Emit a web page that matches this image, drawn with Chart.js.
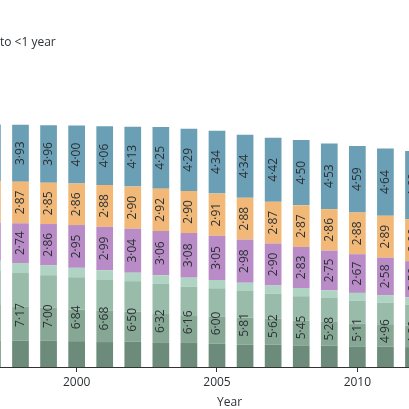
<!DOCTYPE html>
<html>
<head>
<meta charset="utf-8">
<script src="https://cdn.jsdelivr.net/npm/chart.js@4/dist/chart.umd.min.js"></script>
<style>
  html, body { margin: 0; padding: 0; background: #fff; }
  #wrap { width: 409px; height: 409px; position: relative; }
</style>
</head>
<body>
<div id="wrap"><canvas id="chart"></canvas></div>
<script>
// years shown (1997 and 2012 are cut by the frame)
const years = [1997, 1998, 1999, 2000, 2001, 2002, 2003, 2004, 2005, 2006, 2007, 2008, 2009, 2010, 2011, 2012];
const tickYears = [2000, 2005, 2010];
const legendTail = "to <1 year";
const axisTitle = "Year";

// top of the stack downwards
const blueValues = [3.90, 3.93, 3.96, 4.00, 4.06, 4.13, 4.25, 4.29, 4.34, 4.34, 4.42, 4.50, 4.53, 4.59, 4.64, 4.69];
const orangeValues = [2.88, 2.87, 2.85, 2.86, 2.88, 2.90, 2.92, 2.90, 2.91, 2.88, 2.87, 2.87, 2.86, 2.88, 2.89, 2.90];
const purpleValues = [2.62, 2.74, 2.86, 2.95, 2.99, 3.04, 3.06, 3.08, 3.05, 2.98, 2.90, 2.83, 2.75, 2.67, 2.58, 2.50];
// green block: printed total plus its four unlabelled bands
const greenTotals = [7.33, 7.17, 7.00, 6.84, 6.68, 6.50, 6.32, 6.16, 6.00, 5.81, 5.62, 5.45, 5.28, 5.11, 4.96, 4.80];
const greenLightest = [0.70, 0.69, 0.67, 0.65, 0.64, 0.58, 0.59, 0.62, 0.57, 0.53, 0.57, 0.57, 0.52, 0.55, 0.52, 0.50];
const greenLight = [2.35, 2.30, 2.25, 2.23, 2.14, 2.11, 2.07, 1.97, 1.94, 1.88, 1.72, 1.67, 1.61, 1.56, 1.49, 1.45];
const greenMid = [2.45, 2.37, 2.25, 2.18, 2.18, 2.07, 2.00, 1.91, 1.88, 1.86, 1.79, 1.72, 1.68, 1.58, 1.54, 1.48];
const greenDark = [1.83, 1.81, 1.83, 1.78, 1.72, 1.74, 1.66, 1.66, 1.61, 1.54, 1.54, 1.49, 1.47, 1.42, 1.41, 1.37];

const FONT = "'Open Sans', 'DejaVu Sans', sans-serif";
const TEXT = "#2b3135";

function fmt(v) {
  return v.toFixed(2).replace(".", "\u00b7");
}

function points(values) {
  return values.map((v, i) => ({ x: years[i], y: v }));
}

function bar(label, values, color, printed) {
  return {
    label,
    data: points(values),
    backgroundColor: color,
    borderWidth: 0,
    barPercentage: 0.595,
    categoryPercentage: 1,
    printed,
  };
}

const datasets = [
  bar("green dark", greenDark, "#6c8b7b", null),
  bar("green mid", greenMid, "#87a795", null),
  bar("green light", greenLight, "#98bbaa", null),
  bar("green lightest", greenLightest, "#b0d4c4", null),
  bar("purple", purpleValues, "#b98bc7", purpleValues),
  bar("orange", orangeValues, "#f1b877", orangeValues),
  bar("blue", blueValues, "#6a9fb6", blueValues),
];

function drawVertical(ctx, text, x, y) {
  ctx.save();
  ctx.translate(x, y);
  ctx.rotate(-Math.PI / 2);
  ctx.fillText(text, 0, 0);
  ctx.restore();
}

const labelPlugin = {
  id: "segmentLabels",
  afterDatasetsDraw(chart) {
    const { ctx } = chart;
    ctx.save();
    ctx.font = `12px ${FONT}`;
    ctx.fillStyle = TEXT;
    ctx.textAlign = "center";
    ctx.textBaseline = "middle";

    chart.data.datasets.forEach((ds, d) => {
      if (!ds.printed) return;
      chart.getDatasetMeta(d).data.forEach((el, i) => {
        drawVertical(ctx, fmt(ds.printed[i]), el.x, (el.y + el.base) / 2);
      });
    });

    // one label over the whole green block
    const bottom = chart.getDatasetMeta(0).data;
    const top = chart.getDatasetMeta(3).data;
    top.forEach((el, i) => {
      drawVertical(ctx, fmt(greenTotals[i]), el.x, (el.y + bottom[i].base) / 2);
    });
    ctx.restore();
  },
  afterDraw(chart) {
    const { ctx } = chart;
    const xScale = chart.scales.x;
    ctx.save();
    ctx.fillStyle = TEXT;
    ctx.font = `12px ${FONT}`;
    ctx.textBaseline = "middle";
    ctx.textAlign = "left";
    ctx.fillText(legendTail, 0, 43);
    ctx.textAlign = "center";
    ctx.fillText(axisTitle, xScale.getPixelForValue(2005.45), 403);
    ctx.restore();
  },
};

new Chart(document.getElementById("chart").getContext("2d"), {
  type: "bar",
  data: { datasets },
  plugins: [labelPlugin],
  options: {
    responsive: true,
    maintainAspectRatio: false,
    animation: false,
    layout: { padding: { top: 77, left: 0, right: 0, bottom: 0 } },
    plugins: {
      legend: { display: false },
      tooltip: { enabled: false },
    },
    scales: {
      x: {
        type: "linear",
        stacked: true,
        offset: false,
        bounds: "data",
        min: 1997.27,
        max: 2011.84,
        afterBuildTicks: (scale) => {
          scale.ticks = tickYears.map((v) => ({ value: v }));
        },
        afterFit: (scale) => {
          scale.height = 42;
        },
        ticks: {
          autoSkip: false,
          maxRotation: 0,
          padding: 3,
          color: TEXT,
          font: { family: FONT, size: 12 },
          callback: (v) => String(v),
        },
        grid: {
          offset: false,
          drawOnChartArea: false,
          drawTicks: true,
          tickLength: 5,
          color: "#333",
        },
        border: { display: true, color: "#333", width: 1 },
      },
      y: {
        display: false,
        stacked: true,
        min: 0,
        max: 20,
      },
    },
  },
});
</script>
</body>
</html>
